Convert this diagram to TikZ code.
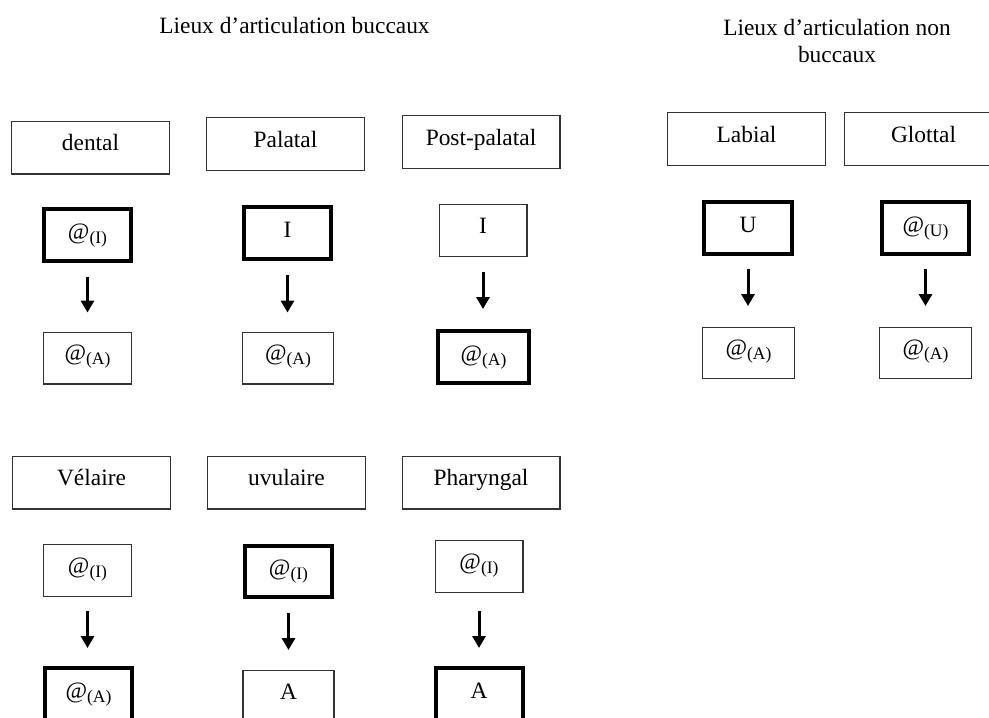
\documentclass[tikz,border=0pt]{standalone}
\usepackage{fontspec}
\setmainfont{Liberation Serif}
\usetikzlibrary{arrows.meta}
\newcommand{\atsub}[1]{@\raisebox{-4pt}{\fontsize{17.5}{17.5}\selectfont(#1)}}
\begin{document}
\begin{tikzpicture}[x=1pt,y=-1pt,
  every node/.style={font=\fontsize{23.4}{27}\selectfont, inner sep=0pt, outer sep=0pt},
  thinbox/.style={draw=black!80, line width=1.3pt},
  thickbox/.style={draw=black, line width=4pt},
  lab/.style={thinbox, minimum width=157.7pt, text height=29.4pt, text depth=23.3pt},
  sthin/.style={thinbox, minimum width=87.7pt, text height=28.4pt, text depth=23.3pt},
  sthick/.style={thickbox, minimum width=87pt, text height=30pt, text depth=22pt},
  arr/.style={line width=3pt, -{Triangle[length=12pt,width=13pt]}, shorten <=15pt, shorten >=20pt},
]
\fill[white] (0,0) rectangle (989,718);
\useasboundingbox (0,0) rectangle (989,718);
\clip (0,0) rectangle (989,718);

% titles
\node (t1) at (294.5,25) {Lieux d’articulation buccaux};
\node[align=center] (t2) at (837,40.5) {Lieux d’articulation non\\buccaux};

% label boxes
\node[lab] (dental) at (90.5,147.5) {dental};
\node[lab] (palatal) at (285.5,144) {Palatal};
\node[lab] (postpal) at (481,142) {Post-palatal};
\node[lab] (labial) at (746.5,139) {Labial};
\node[lab] (glottal) at (923.5,139) {Glottal};
\node[lab] (velaire) at (91.5,482.5) {Vélaire};
\node[lab] (uvulaire) at (286.5,482.5) {uvulaire};
\node[lab] (pharyngal) at (481,482.5) {Pharyngal};

% upper middle row
\node[sthick] (d1) at (87.5,235) {\atsub{I}};
\node[sthick] (p1) at (287.5,233) {I};
\node[sthin] (pp1) at (483,230.5) {I};
\node[sthick, minimum width=88pt] (l1) at (748,228) {U};
\node[sthick] (g1) at (925.5,228) {\atsub{U}};

% upper bottom row
\node[sthin] (d2) at (87.5,358) {\atsub{A}};
\node[sthin, minimum width=90.7pt] (p2) at (288,358) {\atsub{A}};
\node[sthick, minimum width=91pt] (pp2) at (483.5,357) {\atsub{A}};
\node[sthin, minimum width=91.7pt, text height=27.4pt] (l2) at (748.5,353) {\atsub{A}};
\node[sthin, minimum width=91.7pt, text height=27.4pt] (g2) at (925.5,353) {\atsub{A}};

% lower middle row
\node[sthin] (v1) at (87.5,570.5) {\atsub{I}};
\node[sthick, text height=29pt] (u1) at (288.5,571.5) {\atsub{I}};
\node[sthin] (ph1) at (479,566.5) {\atsub{I}};

% lower bottom row
\node[sthick] (v2) at (88.5,694) {\atsub{A}};
\node[sthin, minimum width=91pt] (u2) at (288.5,696.5) {A};
\node[sthick] (ph2) at (479,694) {A};

% arrows
\draw[arr, shorten <=16pt, shorten >=19.6pt] (d1.south) -- (d1.south |- d2.north);
\draw[arr, shorten <=16pt, shorten >=19.6pt] (p1.south) -- (p1.south |- p2.north);
\draw[arr, shorten <=15.6pt, shorten >=22pt] (pp1.south) -- (pp1.south |- pp2.north);
\draw[arr, shorten <=15pt, shorten >=21.6pt] (l1.south) -- (l1.south |- l2.north);
\draw[arr, shorten <=15pt, shorten >=21.6pt] (g1.south) -- (g1.south |- g2.north);
\draw[arr, shorten <=14.6pt, shorten >=20pt] (v1.south) -- (v1.south |- v2.north);
\draw[arr, shorten <=16pt, shorten >=20.6pt] (u1.south) -- (u1.south |- u2.north);
\draw[arr, shorten <=18.6pt, shorten >=20pt] (ph1.south) -- (ph1.south |- ph2.north);
\end{tikzpicture}
\end{document}
